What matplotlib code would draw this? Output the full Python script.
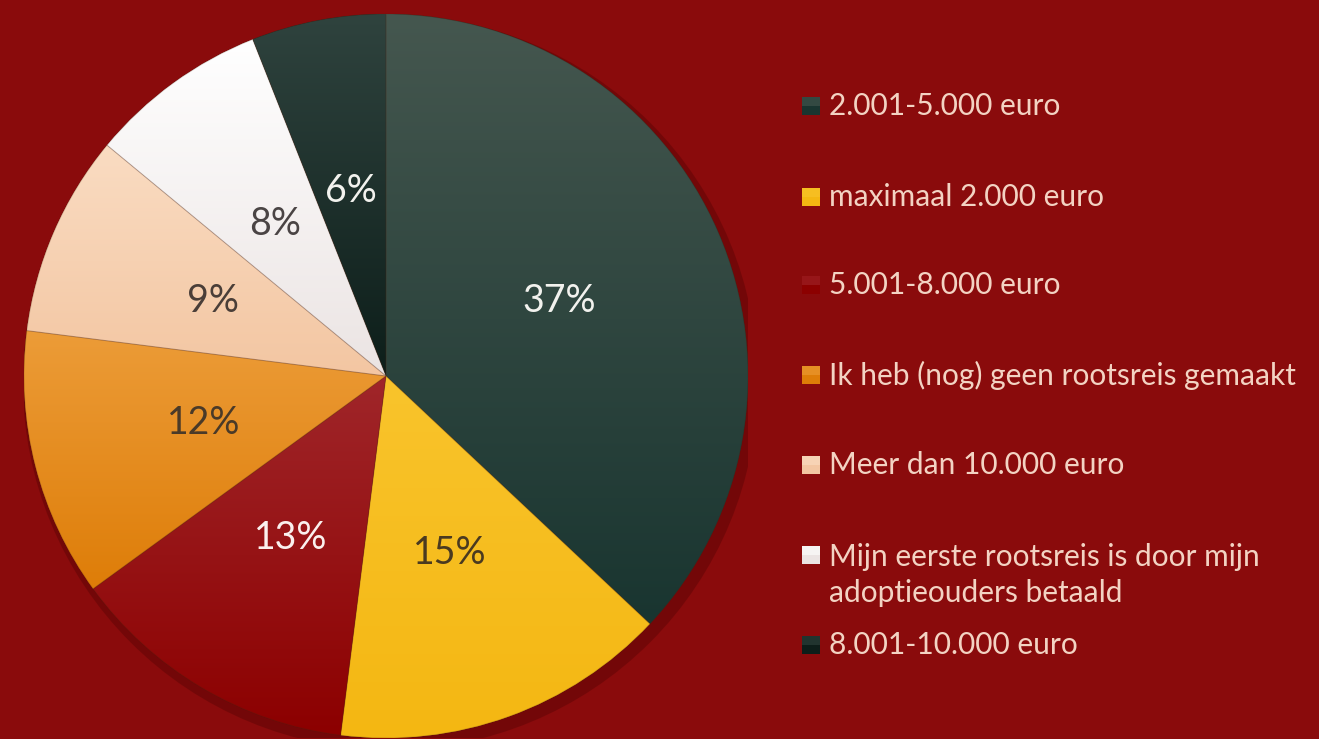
import matplotlib.pyplot as plt
import numpy as np
from matplotlib.colors import LinearSegmentedColormap
from matplotlib.patches import Rectangle, Circle, PathPatch

plt.rcParams['font.family'] = ['Lato', 'DejaVu Sans']

# data
labels = ['2.001-5.000 euro', 'maximaal 2.000 euro', '5.001-8.000 euro',
          'Ik heb (nog) geen rootsreis gemaakt', 'Meer dan 10.000 euro',
          'Mijn eerste rootsreis is door mijn\nadoptieouders betaald',
          '8.001-10.000 euro']
values = [37, 15, 13, 12, 9, 8, 6]

# colours (top / bottom of each slice's gradient)
tops = ['#45574f', '#f9c42c', '#a0262a', '#ec9c38', '#fadcc2', '#ffffff', '#2f433e']
bottoms = ['#193530', '#f4b712', '#8c0000', '#de7d08', '#f3c6a2', '#ebe4e3', '#0d1e1a']
label_colors = ['#f2f2ee', '#4a3a20', '#fbf0ee', '#4a3a28', '#4a3e38', '#4a4444', '#f2f2ee']
bg = '#8a0b0c'
legend_text = '#f3d3c3'

W, H = 1319, 739
fig = plt.figure(figsize=(W / 100, H / 100), dpi=100)
fig.patch.set_facecolor(bg)

# pie axes: centre (386, 376) px, radius 362 px
cx, cy, R = 386, 376, 362
ax = fig.add_axes([(cx - R) / W, (H - cy - R) / H, 2 * R / W, 2 * R / H])
ax.set_facecolor(bg)
ax.axis('off')

# soft shadow
ax.add_patch(Circle((0.012, -0.018), 1.015, color='#520303', alpha=0.4, zorder=0, lw=0))

edge_col = (0.3, 0.15, 0.08, 0.2)
wedges, texts, autotexts = ax.pie(
    values, startangle=90, counterclock=False, radius=1,
    colors=bottoms, autopct=lambda p: f'{p:.0f}%', pctdistance=0.52,
    wedgeprops=dict(edgecolor=edge_col, linewidth=0.7),
    textprops=dict(fontsize=27))

grad = np.linspace(0, 1, 256).reshape(-1, 1)
for w, top, bot in zip(wedges, tops, bottoms):
    cmap = LinearSegmentedColormap.from_list('g', [bot, top])
    ext = w.get_path().get_extents()
    im = ax.imshow(grad, cmap=cmap, origin='lower', aspect='auto',
                   extent=[ext.x0, ext.x1, ext.y0, ext.y1], zorder=w.get_zorder() + 0.1)
    im.set_clip_path(w)
    ax.add_patch(PathPatch(w.get_path(), facecolor='none', edgecolor=edge_col, lw=0.7,
                           zorder=w.get_zorder() + 0.2))

for t, c in zip(autotexts, label_colors):
    t.set_color(c)
    t.set_zorder(10)

ax.set_xlim(-1, 1)
ax.set_ylim(-1, 1)

# legend drawn in pixel coordinates
lax = fig.add_axes([0, 0, 1, 1])
lax.set_xlim(0, W)
lax.set_ylim(H, 0)
lax.axis('off')
lax.patch.set_alpha(0)

rows_y = [106, 197, 285, 375, 465, 555, 645]
for lab, top, bot, y in zip(labels, tops, bottoms, rows_y):
    lax.add_patch(Rectangle((802, y - 9), 18, 18, facecolor=bot, edgecolor='none'))
    lax.add_patch(Rectangle((802, y - 9), 18, 9, facecolor=top, edgecolor='none', alpha=0.6))
    if '\n' in lab:
        lax.text(829, y + 20, lab, color=legend_text, fontsize=21.5, va='center', ha='left',
                 linespacing=1.34)
    else:
        lax.text(829, y, lab, color=legend_text, fontsize=21.5, va='center', ha='left')

fig.savefig('out.png', dpi=100, facecolor=bg)
